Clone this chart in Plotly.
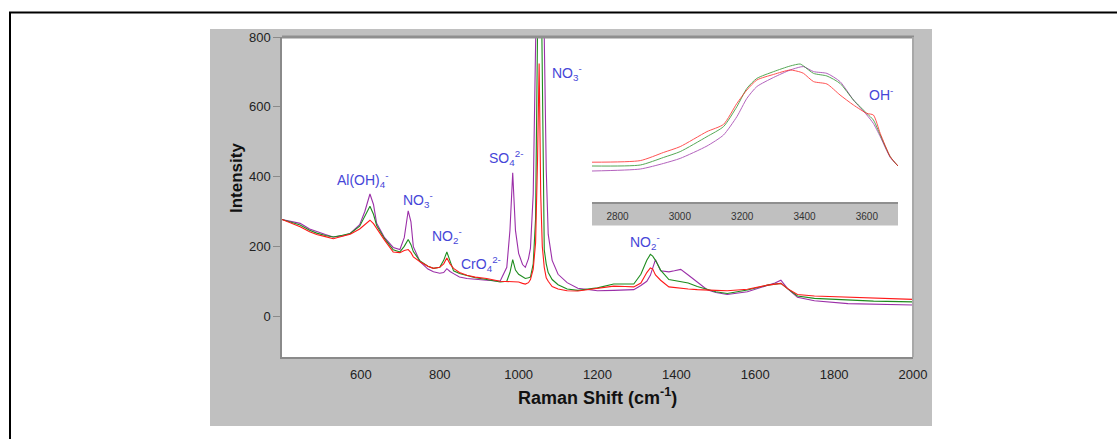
import plotly.graph_objects as go

W, H = 1117, 439


def fx(p):
    return p / W


def fy(p):
    return 1 - p / H


# ---------------- data ----------------
raman_shift = [400, 425, 446, 470, 488, 510, 530, 553, 573, 597, 610, 623, 632, 640, 660, 682, 699,
               710, 720, 727, 733, 750, 770, 784, 800, 810, 818, 826, 835, 850, 869, 890, 919, 953,
               970, 978, 985, 992, 1000, 1010, 1017, 1025, 1030, 1037, 1043, 1048, 1052, 1056, 1060,
               1065, 1070, 1075, 1085, 1100, 1123, 1150, 1200, 1241, 1270, 1292, 1310, 1325, 1334,
               1340, 1347, 1360, 1381, 1395, 1411, 1430, 1453, 1478, 1500, 1529, 1580, 1631, 1650,
               1665, 1682, 1707, 1750, 1835, 1900, 2000]

intensity_purple = [277, 272, 266, 250, 242, 234, 227, 230, 237, 262, 300, 350, 320, 266, 225, 197, 191,
                    225, 302, 270, 199, 156, 135, 127, 123, 125, 136, 128, 122, 112, 108, 105, 103, 100,
                    140, 246, 411, 246, 180, 148, 140, 165, 195, 350, 820, 1400, 1700, 1700, 1400,
                    800, 420, 235, 160, 120, 96, 80, 73, 74, 75, 76, 88, 100, 117,
                    140, 162, 130, 127, 130, 134, 118, 98, 76, 68, 62, 70, 89, 95,
                    103, 79, 54, 44, 36, 34, 32]

intensity_green = [277, 268, 261, 246, 238, 231, 227, 232, 237, 258, 285, 315, 292, 260, 222, 190, 184,
                   200, 220, 205, 185, 158, 143, 137, 140, 160, 184, 160, 130, 122, 117, 110, 105, 98,
                   100, 125, 162, 132, 120, 112, 108, 110, 112, 150, 280, 820, 1100, 1100, 700,
                   190, 150, 125, 105, 90, 78, 74, 81, 92, 92, 92, 120, 160, 177,
                   172, 160, 132, 105, 102, 100, 95, 85, 76, 70, 65, 75, 89, 93,
                   94, 79, 58, 51, 46, 43, 41]

intensity_red = [277, 266, 256, 242, 234, 228, 222, 229, 235, 250, 262, 275, 265, 251, 218, 184, 182,
                 188, 191, 182, 170, 156, 143, 137, 140, 150, 167, 150, 137, 125, 117, 112, 108, 100,
                 99, 100, 100, 99, 98, 94, 92, 96, 105, 135, 210, 450, 724, 350, 200,
                 140, 110, 100, 85, 78, 73, 72, 79, 86, 85, 84, 95, 125, 138,
                 135, 118, 103, 84, 82, 81, 78, 76, 74, 74, 73, 77, 89, 93,
                 94, 79, 62, 58, 54, 51, 48]

inset_shift = [2718, 2873, 2948, 3001, 3087, 3140, 3183, 3215, 3247, 3301, 3354, 3386, 3397, 3429,
               3472, 3514, 3557, 3600, 3621, 3643, 3675, 3700]
inset_purple = [145, 155, 183, 208, 270, 325, 417, 508, 567, 613, 650, 665, 667, 642,
                633, 592, 500, 425, 383, 317, 213, 170]
inset_green = [170, 175, 213, 242, 317, 367, 467, 558, 608, 642, 670, 680, 670, 633,
               620, 583, 500, 433, 400, 325, 217, 170]
inset_red = [189, 197, 238, 267, 342, 378, 483, 550, 600, 628, 650, 640, 633, 592,
             580, 525, 475, 433, 425, 333, 217, 170]

main_ticks = [600, 800, 1000, 1200, 1400, 1600, 1800, 2000]
y_ticks = [0, 200, 400, 600, 800]
inset_ticks = [2800, 3000, 3200, 3400, 3600]

peak_labels = [
    ("Al(OH)<sub>4</sub><sup>-</sup>", 605, 390),
    ("NO<sub>3</sub><sup>-</sup>", 745, 332),
    ("NO<sub>2</sub><sup>-</sup>", 818, 229),
    ("CrO<sub>4</sub><sup>2-</sup>", 904, 149),
    ("SO<sub>4</sub><sup>2-</sup>", 968, 453),
    ("NO<sub>3</sub><sup>-</sup>", 1123, 696),
    ("NO<sub>2</sub><sup>-</sup>", 1321, 212),
    ("OH<sup>-</sup>", 1919, 636),
]

PURPLE = "#9b2fa8"
GREEN = "#1e8c1e"
RED = "#ff1a1a"
LABEL = "#4646d8"
FONT = "Liberation Sans, Arial, sans-serif"

fig = go.Figure()
for name, ys, c in [("Purple", intensity_purple, PURPLE), ("Green", intensity_green, GREEN),
                    ("Red", intensity_red, RED)]:
    fig.add_trace(go.Scatter(x=raman_shift, y=ys, mode="lines", name=name,
                             line=dict(color=c, width=1.1), xaxis="x", yaxis="y",
                             showlegend=False))
for name, ys, c in [("Purple", inset_purple, PURPLE), ("Green", inset_green, GREEN),
                    ("Red", inset_red, RED)]:
    fig.add_trace(go.Scatter(x=inset_shift, y=ys, mode="lines", name=name + " (OH)",
                             line=dict(color=c, width=1, shape="spline", smoothing=0.6),
                             opacity=0.75, xaxis="x2", yaxis="y2", showlegend=False))

shapes = [
    # grey chart panel
    dict(type="rect", xref="paper", yref="paper", x0=fx(210), x1=fx(932), y0=fy(426), y1=fy(29),
         fillcolor="#c0c0c0", line=dict(width=0), layer="below"),
    # white plot area
    dict(type="rect", xref="paper", yref="paper", x0=fx(282), x1=fx(913), y0=fy(357), y1=fy(37),
         fillcolor="white", line=dict(width=0), layer="below"),
    # inset axis band
    dict(type="rect", xref="paper", yref="paper", x0=fx(592), x1=fx(898), y0=fy(225.5), y1=fy(202),
         fillcolor="#c0c0c0", line=dict(width=0), layer="below"),
    # plot frame top and right
    dict(type="line", xref="paper", yref="paper", x0=fx(282), x1=fx(914), y0=fy(37), y1=fy(37),
         line=dict(color="#8f8f8f", width=3), layer="above"),
    dict(type="line", xref="paper", yref="paper", x0=fx(913), x1=fx(913), y0=fy(357), y1=fy(37),
         line=dict(color="#a8a8a8", width=2), layer="above"),
    # outer black frame (top + left)
    dict(type="line", xref="paper", yref="paper", x0=fx(9), x1=1, y0=fy(12.5), y1=fy(12.5),
         line=dict(color="black", width=2)),
    dict(type="line", xref="paper", yref="paper", x0=fx(10), x1=fx(10), y0=0, y1=fy(12),
         line=dict(color="black", width=2)),
]

annotations = []
for txt, x, y in peak_labels:
    annotations.append(dict(text=txt, x=x, y=y, xref="x", yref="y", showarrow=False,
                            xanchor="center", yanchor="middle",
                            font=dict(family=FONT, size=14, color=LABEL)))
annotations.append(dict(text="<b>Raman Shift (cm<sup>-1</sup>)</b>", x=fx(597), y=fy(396),
                        xref="paper", yref="paper", showarrow=False,
                        xanchor="center", yanchor="middle",
                        font=dict(family=FONT, size=18, color="#111111")))
annotations.append(dict(text="<b>Intensity</b>", x=fx(236), y=fy(178), textangle=-90,
                        xref="paper", yref="paper", showarrow=False,
                        xanchor="center", yanchor="middle",
                        font=dict(family=FONT, size=17, color="#111111")))

fig.update_layout(
    template="none",
    width=W, height=H, autosize=False,
    margin=dict(l=0, r=0, t=0, b=0, pad=0, autoexpand=False),
    paper_bgcolor="white",
    plot_bgcolor="rgba(0,0,0,0)",
    showlegend=False,
    font=dict(family=FONT, color="#222222"),
    shapes=shapes,
    annotations=annotations,
    xaxis=dict(domain=[fx(282), fx(913)], range=[400, 2000], tickvals=main_ticks, automargin=False,
               showgrid=False, zeroline=False, showline=True, linecolor="#8a8a8a", linewidth=1.5,
               ticks="", ticklabelstandoff=5, tickfont=dict(size=13, color="#222222"), anchor="y"),
    yaxis=dict(domain=[fy(357), fy(37)], range=[-117, 800], tickvals=y_ticks, automargin=False,
               showgrid=False, zeroline=False, showline=True, linecolor="#8a8a8a", linewidth=1.5,
               ticks="outside", ticklen=7, tickcolor="#8a8a8a", tickwidth=1,
               tickfont=dict(size=13, color="#222222"), anchor="x"),
    xaxis2=dict(domain=[fx(592), fx(898)], range=[2718, 3700], tickvals=inset_ticks, automargin=False,
                showgrid=False, zeroline=False, showline=True, linecolor="#8f8f8f", linewidth=1.5,
                ticks="", ticklabelstandoff=4, tickfont=dict(size=10, color="#333333"),
                anchor="y2"),
    yaxis2=dict(domain=[fy(202), fy(40)], range=[-10, 800], visible=False, automargin=False,
                anchor="x2"),
)

fig.write_html("out.html", config={"displayModeBar": False},
               post_script="document.body.style.margin='0';document.body.style.overflow='hidden';")
